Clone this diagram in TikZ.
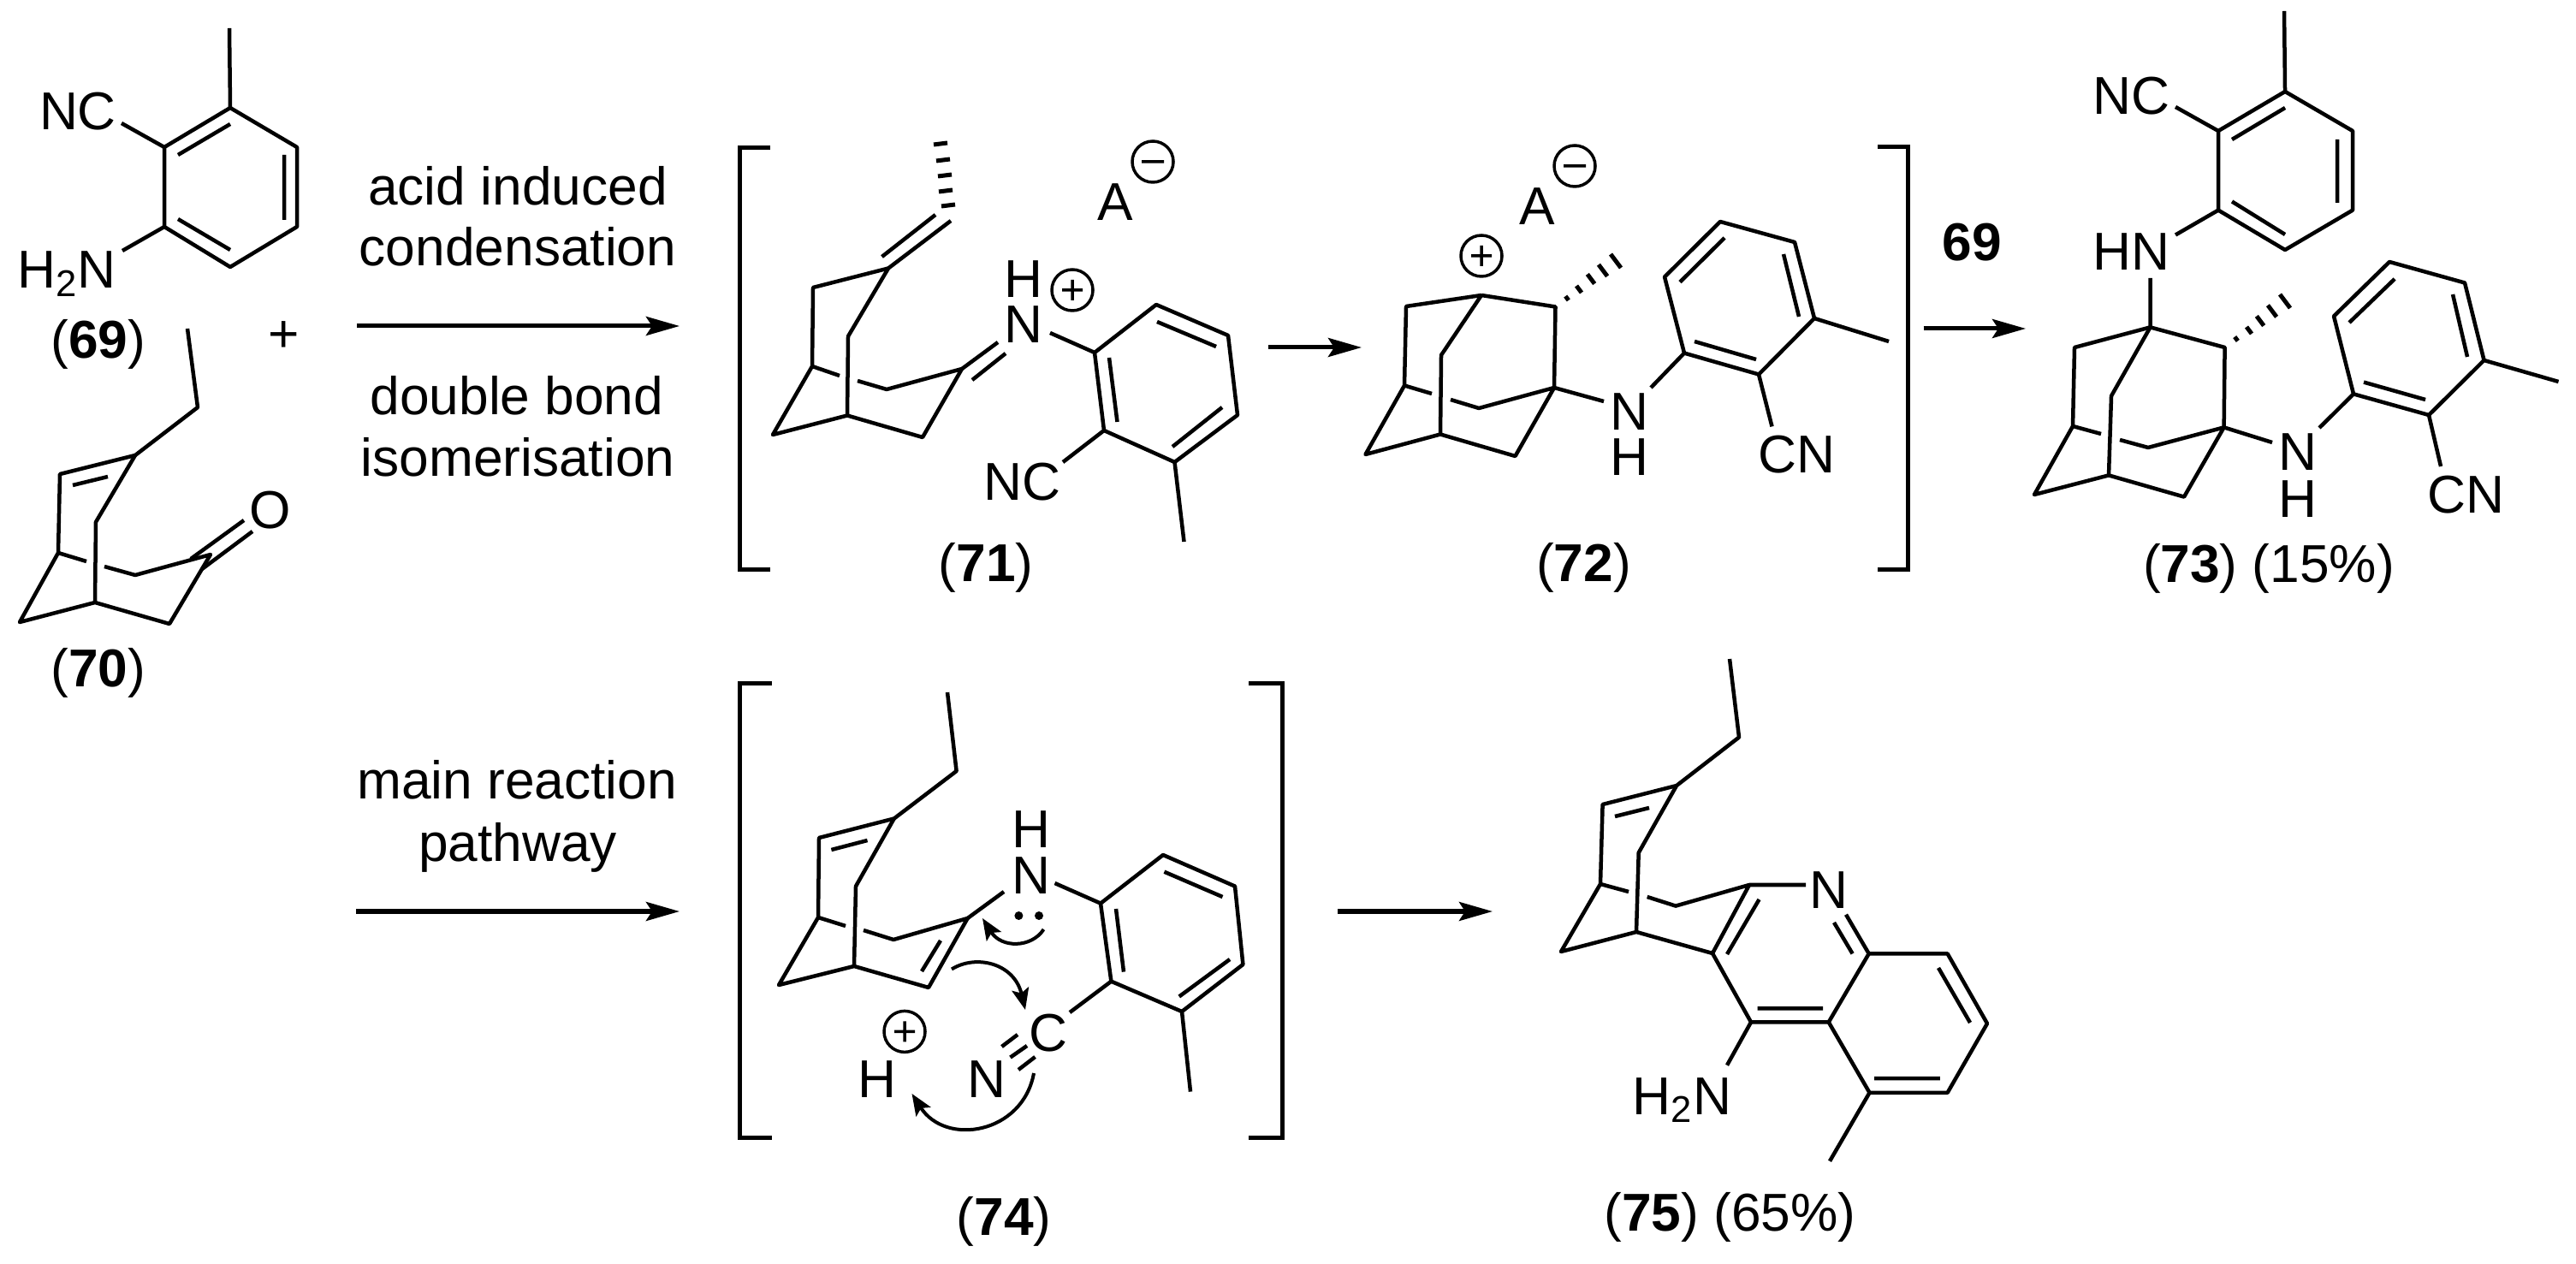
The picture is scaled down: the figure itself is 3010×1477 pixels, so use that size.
\documentclass[tikz,border=0pt]{standalone}
\usepackage{fontspec}
\setmainfont{Liberation Sans}
\usetikzlibrary{arrows.meta}
\tikzset{
bond/.style={line width=0.045cm,line join=round},
hash/.style={line width=0.05cm},
brk/.style={line width=0.05cm,line join=miter},
rxn/.style={line width=0.05cm,-{Stealth[length=0.39cm,width=0.22cm,inset=0.07cm]}},
curly/.style={line width=0.04cm,-{Stealth[length=0.25cm,width=0.2cm,inset=0.05cm]}},
chg/.style={line width=0.035cm},
lab/.style={anchor=base,inner sep=0pt,outer sep=0pt,font=\fontsize{17.7}{20}\selectfont},
}
\newcommand{\chgplus}[1]{\draw[chg] (#1) circle (24) +(-12,0)--+(12,0) +(0,-12)--+(0,12);}
\newcommand{\chgminus}[1]{\draw[chg] (#1) circle (24) +(-13,0)--+(13,0);}
\begin{document}
\begin{tikzpicture}[x=0.01cm,y=-0.01cm]
\useasboundingbox (0,0) rectangle (3010,1477);
% 69
\draw[bond] (269,126)--(192,172)--(192,265)--(269,312)--(347,265)--(347,172)--cycle;
\draw[bond] (268,33)--(269,126) (208,181)--(269,145) (332,181)--(332,257) (208,256)--(269,292);
\draw[bond] (142,144)--(192,172) (143,293)--(192,265);
\node[lab] (nc69) at (91,152) {NC};
\node[lab] (nh69) at (78,337) {H\textsubscript{2}N};
\node[lab] (lab69) at (115,419) {(\textbf{69})};
\node[lab] (plus) at (332,412) {+};
% 70
\draw[bond] (219,384)--(231,476)--(158,532)--(70,554)--(68,646)--(23,727)--(111,704)--(198,729)--(246,648)--(158,672)--(122,662);
\draw[bond] (101,656)--(68,646) (158,532)--(112,610)--(111,704) (85,567)--(126,557);
\draw[bond] (223,653)--(285,608) (236,665)--(295,621);
\node[lab] (o70) at (316,618) {O};
\node[lab] (lab70) at (115,803) {(\textbf{70})};
% top arrow
\coordinate (r1a) at (417,381);
\coordinate (r1b) at (794,381);
\draw[rxn] (r1a)--(r1b);
\node[lab] (t1) at (605,240) {acid induced};
\node[lab] (t2) at (605,311) {condensation};
\node[lab] (t3) at (604,485) {double bond};
\node[lab] (t4) at (605,557) {isomerisation};
% 71
\draw[brk] (899.5,173)--(864,173)--(864,666)--(899.5,666);
\foreach \cx/\cy in {1099/168,1102/187,1104/205,1105/223,1108/240}
\draw[hash] (\cx-8,\cy+1)--(\cx+8,\cy-1);
\draw[bond] (1038,313.5)--(1111,258) (1030.5,300)--(1093,251);
\draw[bond] (1038,313.5)--(950,336)--(949,428)--(903,508)--(990,485.5)--(1078,511)--(1124,431)--(1036,455)--(1002,445);
\draw[bond] (981,439)--(949,428) (1038,313.5)--(991,393)--(990,485.5);
\draw[bond] (1124,431)--(1166,400) (1136,444)--(1175,413);
\node[lab] (n71) at (1195.5,401) {N};
\node[lab] (h71) at (1195.5,348) {H};
\chgplus{1253,339}
\draw[bond] (1279,412)--(1351,356)--(1435,392)--(1446,485)--(1372.5,540)--(1290,503)--cycle;
\draw[bond] (1227,389)--(1279,412) (1352,376)--(1421,405) (1296,418)--(1305.5,493) (1370,522)--(1428,476);
\draw[bond] (1242,540)--(1290,503) (1372.5,540)--(1383.5,633);
\node[lab] (nc71) at (1194.5,585) {NC};
\node[lab] (a71) at (1303,258) {A};
\chgminus{1347,189}
\node[lab] (lab71) at (1152,680) {(\textbf{71})};
\coordinate (r2a) at (1482,406);
\coordinate (r2b) at (1591,406);
\draw[rxn] (r2a)--(r2b);
% 72
\draw[bond] (1731,345)--(1643,358)--(1641,450.5)--(1595.5,531)--(1683,507.5)--(1770.5,533)--(1816,453)--(1728,477)--(1695,467);
\draw[bond] (1673,460)--(1641,450.5) (1731,345)--(1684,415)--(1683,507.5) (1731,345)--(1817.5,358.5)--(1816,453);
\foreach \cx/\cy/\hl in {1831/348.5/3,1845/338/5,1859/326/7,1873/316/8.5,1888/305/10}
\draw[hash] (\cx-0.6*\hl,\cy-0.8*\hl)--(\cx+0.6*\hl,\cy+0.8*\hl);
\node[lab] (a72) at (1796,263) {A};
\chgminus{1840,194}
\chgplus{1731,299}
\draw[bond] (1816,453)--(1874,469);
\node[lab] (n72) at (1903.5,503) {N};
\node[lab] (h72) at (1903.5,556) {H};
\draw[bond] (1929,453)--(1968,412.6)--(1945,323.6)--(2010,259)--(2097,283)--(2120,372)--(2055,437.5)--(1968,412.6);
\draw[bond] (1963,329.6)--(2015,278) (2084,297)--(2102,370) (1980,399)--(2052,420);
\draw[bond] (2055,437.5)--(2070.5,498.4) (2120,372)--(2207,399);
\node[lab] (cn72) at (2099,553) {CN};
\draw[brk] (2194,172)--(2229.5,172)--(2229.5,665.6)--(2194,665.6);
\node[lab] (lab72) at (1850.5,680) {(\textbf{72})};
\coordinate (r3a) at (2247.5,384);
\coordinate (r3b) at (2367,384);
\draw[rxn] (r3a)--(r3b);
\node[lab] (t69) at (2304,305) {\textbf{69}};
% 73
\draw[bond] (2669,13)--(2670,107)--(2592,153)--(2592,245.6)--(2670,292)--(2749,245.6)--(2749,153)--(2670,107);
\draw[bond] (2608,163)--(2670,126) (2731,163)--(2731,237) (2608,235.5)--(2670,274);
\draw[bond] (2542,125)--(2592,153) (2542,274.5)--(2592,245.6) (2512.5,325)--(2512.5,382.4);
\node[lab] (nc73) at (2490.5,134) {NC};
\node[lab] (hn73) at (2490.5,316) {HN};
\draw[bond] (2512.5,382.4)--(2424,406)--(2422,498)--(2377,578)--(2464,555.4)--(2552,580.6)--(2598.6,499.4)--(2510,523)--(2477,514);
\draw[bond] (2455,507)--(2422,498) (2512.5,382.4)--(2467,462.7)--(2464,555.4) (2512.5,382.4)--(2599.6,406)--(2598.6,499.4);
\foreach \cx/\cy/\hl in {2613/396/3,2628/386/5,2641/375/7,2655/363.5/8.5,2670/352/10}
\draw[hash] (\cx-0.6*\hl,\cy-0.8*\hl)--(\cx+0.6*\hl,\cy+0.8*\hl);
\draw[bond] (2598.6,499.4)--(2655,517);
\node[lab] (n73) at (2685,550) {N};
\node[lab] (h73) at (2685,604.5) {H};
\draw[bond] (2710,500)--(2750,460.4)--(2727,369.5)--(2792,306)--(2880,330.5)--(2902.5,421)--(2838,485)--(2750,460.4);
\draw[bond] (2745,377)--(2798,326) (2866,344)--(2883,417) (2762,446.6)--(2834,467);
\draw[bond] (2838,485)--(2852,545) (2902.5,421)--(2989.5,446);
\node[lab] (cn73) at (2881,600) {CN};
\node[lab] (lab73) at (2651,681) {(\textbf{73}) (15\%)};
% bottom arrow
\coordinate (r4a) at (416,1065);
\coordinate (r4b) at (794,1065);
\draw[rxn] (r4a)--(r4b);
\node[lab] (t5) at (604,933) {main reaction};
\node[lab] (t6) at (605,1006) {pathway};
% 74
\draw[brk] (901.6,799)--(864,799)--(864,1329)--(901.6,1329);
\draw[brk] (1459,799)--(1498,799)--(1498,1329)--(1459,1329);
\draw[bond] (1107,809)--(1117.6,901)--(1044.7,956.5)--(957,979)--(956,1072)--(910,1151)--(998,1129)--(1085,1154)--(1130.6,1073)--(1044,1098)--(1009,1087);
\draw[bond] (988,1082)--(956,1072) (1044.7,956.5)--(1000,1035.6)--(998,1129);
\draw[bond] (971.4,993)--(1013.5,982) (1077,1135)--(1099,1099) (1130.6,1073)--(1173,1042);
\node[lab] (n74) at (1204.5,1044.5) {N};
\node[lab] (h74) at (1204.5,991) {H};
\fill (1190.4,1070) circle (5) (1214,1070) circle (5);
\draw[bond] (1232.5,1032)--(1286,1055.6)--(1359,999)--(1443,1035.6)--(1452.4,1127)--(1381,1182)--(1298.4,1146.7)--(1286,1055.6);
\draw[bond] (1304,1062)--(1313,1135.6) (1360.4,1018.7)--(1428.5,1048) (1377.8,1164.5)--(1437,1121);
\draw[bond] (1298.4,1146.7)--(1250,1183) (1381,1182)--(1391,1275.6);
\node[lab] (c74) at (1224.7,1228) {C};
\draw[bond] (1170.5,1223)--(1189,1209) (1180.5,1235.6)--(1200,1222) (1190,1250)--(1209.5,1235);
\node[lab] (n74b) at (1153,1282) {N};
\node[lab] (h74b) at (1025,1282) {H};
\chgplus{1057,1205.4}
\draw[curly] (1219.5,1086) .. controls (1205,1108) and (1170,1108) .. (1148,1073);
\draw[curly] (1112,1132.5) .. controls (1140,1115) and (1185,1125) .. (1198,1180);
\draw[curly] (1208,1254) .. controls (1195,1325) and (1105,1340) .. (1065.5,1278);
\node[lab] (lab74) at (1173,1443) {(\textbf{74})};
\coordinate (r5a) at (1563,1065);
\coordinate (r5b) at (1744,1065);
\draw[rxn] (r5a)--(r5b);
% 75
\draw[bond] (2021,770)--(2032,861.5)--(1959,918)--(1872.6,940)--(1870,1033)--(1824,1112)--(1912,1089)--(2001,1114)--(2044,1034)--(1958,1058.6)--(1924.7,1048);
\draw[bond] (1903,1042)--(1870,1033) (1959,918)--(1914.7,996.4)--(1912,1089) (1887,954)--(1927,944);
\draw[bond] (2044,1034)--(2110,1034) (2018,1115)--(2055.5,1051);
\node[lab] (n75) at (2137,1061) {N};
\draw[bond] (2157,1068.7)--(2183.7,1114.4)--(2275.6,1114.4)--(2322,1196)--(2275.6,1276.8)--(2184.5,1276.8)--(2136.7,1194.4)--(2046,1194.4)--(2001,1114);
\draw[bond] (2183.7,1114.4)--(2136.7,1194.4) (2143,1078)--(2164.6,1114.4);
\draw[bond] (2265,1131)--(2302,1195) (2053.6,1178.4)--(2130,1178.4) (2190,1260)--(2266.8,1260);
\draw[bond] (2046,1194.4)--(2018,1244.7) (2184.5,1276.8)--(2138,1356.8);
\node[lab] (nh75) at (1965,1302) {H\textsubscript{2}N};
\node[lab] (lab75) at (2021.5,1438) {(\textbf{75}) (65\%)};
\end{tikzpicture}
\end{document}
